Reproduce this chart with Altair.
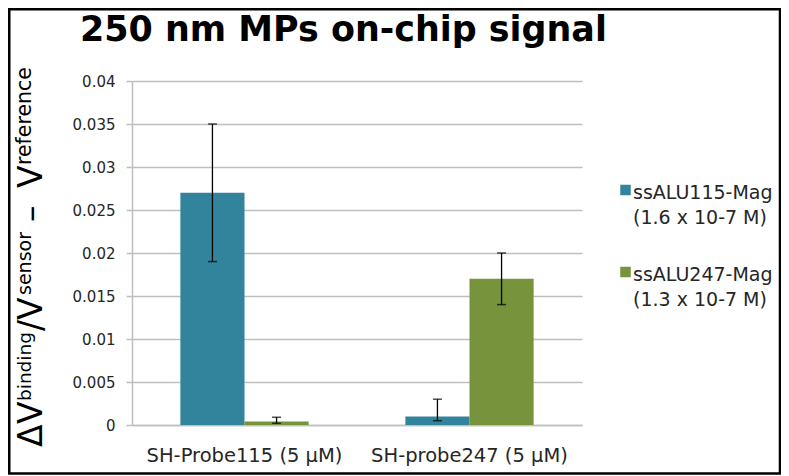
import altair as alt
import pandas as pd

# ---- data ----
categories = ["SH-Probe115 (5 μM)", "SH-probe247 (5 μM)"]
series = ["ssALU115-Mag", "ssALU247-Mag"]
series_conc = ["(1.6 x 10-7 M)", "(1.3 x 10-7 M)"]
colors = ["#31849B", "#77933C"]
alu115_values = [0.027, 0.001]
alu247_values = [0.0004, 0.017]
alu115_low = [0.019, 0.0005]
alu115_high = [0.035, 0.003]
alu247_low = [0.0002, 0.014]
alu247_high = [0.0009, 0.020]
y_ticks = [0, 0.005, 0.01, 0.015, 0.02, 0.025, 0.03, 0.035, 0.04]
title_text = "250 nm MPs on-chip signal"
# y-axis title pieces: (text, superscript?)
y_title_parts = [("Δ", False), ("V", False), ("binding", True), ("/", False),
                 ("V", False), ("sensor", True), ("–", False), ("V", False),
                 ("reference", True)]
# start of each piece, measured upward from the plot top (px)
y_title_starts = [366, 343, 320, 250, 239, 214, 141, 107, 84]
y_title_sizes = [33, 33, 18.5, 33, 33, 19, 33, 33, 20.5]

rows = []
for s, vals, lo, hi in zip(series, [alu115_values, alu247_values],
                           [alu115_low, alu247_low], [alu115_high, alu247_high]):
    for c, v, l, h in zip(categories, vals, lo, hi):
        rows.append(dict(category=c, series=s, value=v, low=l, high=h))
df = pd.DataFrame(rows)
dummy = pd.DataFrame({"a": [0]})

FONT = "DejaVu Sans"
GRID = "#bfbfbf"

x_enc = alt.X("category:N", sort=categories,
              scale=alt.Scale(paddingInner=0.43, paddingOuter=0.215),
              axis=alt.Axis(title=None, labelAngle=0, ticks=False, labelFontSize=19.5,
                            labelPadding=21, domainColor=GRID, domainWidth=1.5,
                            labelColor="#262626", labelFont=FONT, labelLimit=400))
xo_enc = alt.XOffset("series:N", sort=series, scale=alt.Scale(paddingInner=0, paddingOuter=0))
y_axis = alt.Axis(title=None, values=y_ticks, format="~g", grid=True, gridColor=GRID,
                  gridWidth=1.5, tickColor=GRID, tickSize=6, tickWidth=1.5,
                  domainColor=GRID, domainWidth=1.5, labelFontSize=15,
                  labelPadding=11, labelColor="#262626", labelFont=FONT)
y_scale = alt.Scale(domain=[0, 0.04], nice=False)
color_enc = alt.Color("series:N", sort=series,
                      scale=alt.Scale(domain=series, range=colors), legend=None)

base = alt.Chart(df)
bars = base.mark_bar().encode(
    x=x_enc, xOffset=xo_enc,
    y=alt.Y("value:Q", scale=y_scale, axis=y_axis), color=color_enc)
err = base.mark_rule(color="black", strokeWidth=1.3).encode(
    x=x_enc, xOffset=xo_enc,
    y=alt.Y("low:Q", scale=y_scale, axis=y_axis), y2="high:Q")
cap_lo = base.mark_tick(orient="horizontal", size=9, thickness=1.5, color="black").encode(
    x=x_enc, xOffset=xo_enc, y=alt.Y("low:Q", scale=y_scale, axis=y_axis))
cap_hi = base.mark_tick(orient="horizontal", size=9, thickness=1.5, color="black").encode(
    x=x_enc, xOffset=xo_enc, y=alt.Y("high:Q", scale=y_scale, axis=y_axis))

layers = [bars, err, cap_lo, cap_hi]

# title
layers.append(alt.Chart(dummy).mark_text(
    text=title_text, font=FONT, fontSize=34.9, fontWeight="bold", align="left",
    baseline="alphabetic", color="black").encode(x=alt.value(-52), y=alt.value(-40)))

# y-axis title made of pieces with superscripts
for (t, sup), ys, fs in zip(y_title_parts, y_title_starts, y_title_sizes):
    layers.append(alt.Chart(dummy).mark_text(
        text=t, font=FONT, fontSize=fs, angle=270, align="left",
        baseline="alphabetic", color="black").encode(
        x=alt.value(-101 if sup else -90), y=alt.value(ys)))

# legend
legend_y = [109, 191]
for s, conc, col, ly in zip(series, series_conc, colors, legend_y):
    layers.append(alt.Chart(dummy).mark_square(size=110, color=col, opacity=1).encode(
        x=alt.value(493.5), y=alt.value(ly)))
    layers.append(alt.Chart(dummy).mark_text(
        text=s + "\n" + conc, lineBreak="\n", lineHeight=25, font=FONT, fontSize=19,
        align="left", baseline="top", color="#262626").encode(
        x=alt.value(501), y=alt.value(ly - 6)))

# frame
layers.append(alt.Chart(dummy).mark_rect(fillOpacity=0, stroke="black", strokeWidth=2.5).encode(
    x=alt.value(-122.75), x2=alt.value(648), y=alt.value(-71.75), y2=alt.value(392.5)))

chart = alt.layer(*layers).properties(
    width=450, height=344,
    padding={"left": 124, "top": 73, "right": 199, "bottom": 51},
    autosize=alt.AutoSizeParams(type="none"),
    background="white",
).configure_view(strokeWidth=0)

chart.save("out.html", embed_options={"renderer": "svg", "actions": False})
